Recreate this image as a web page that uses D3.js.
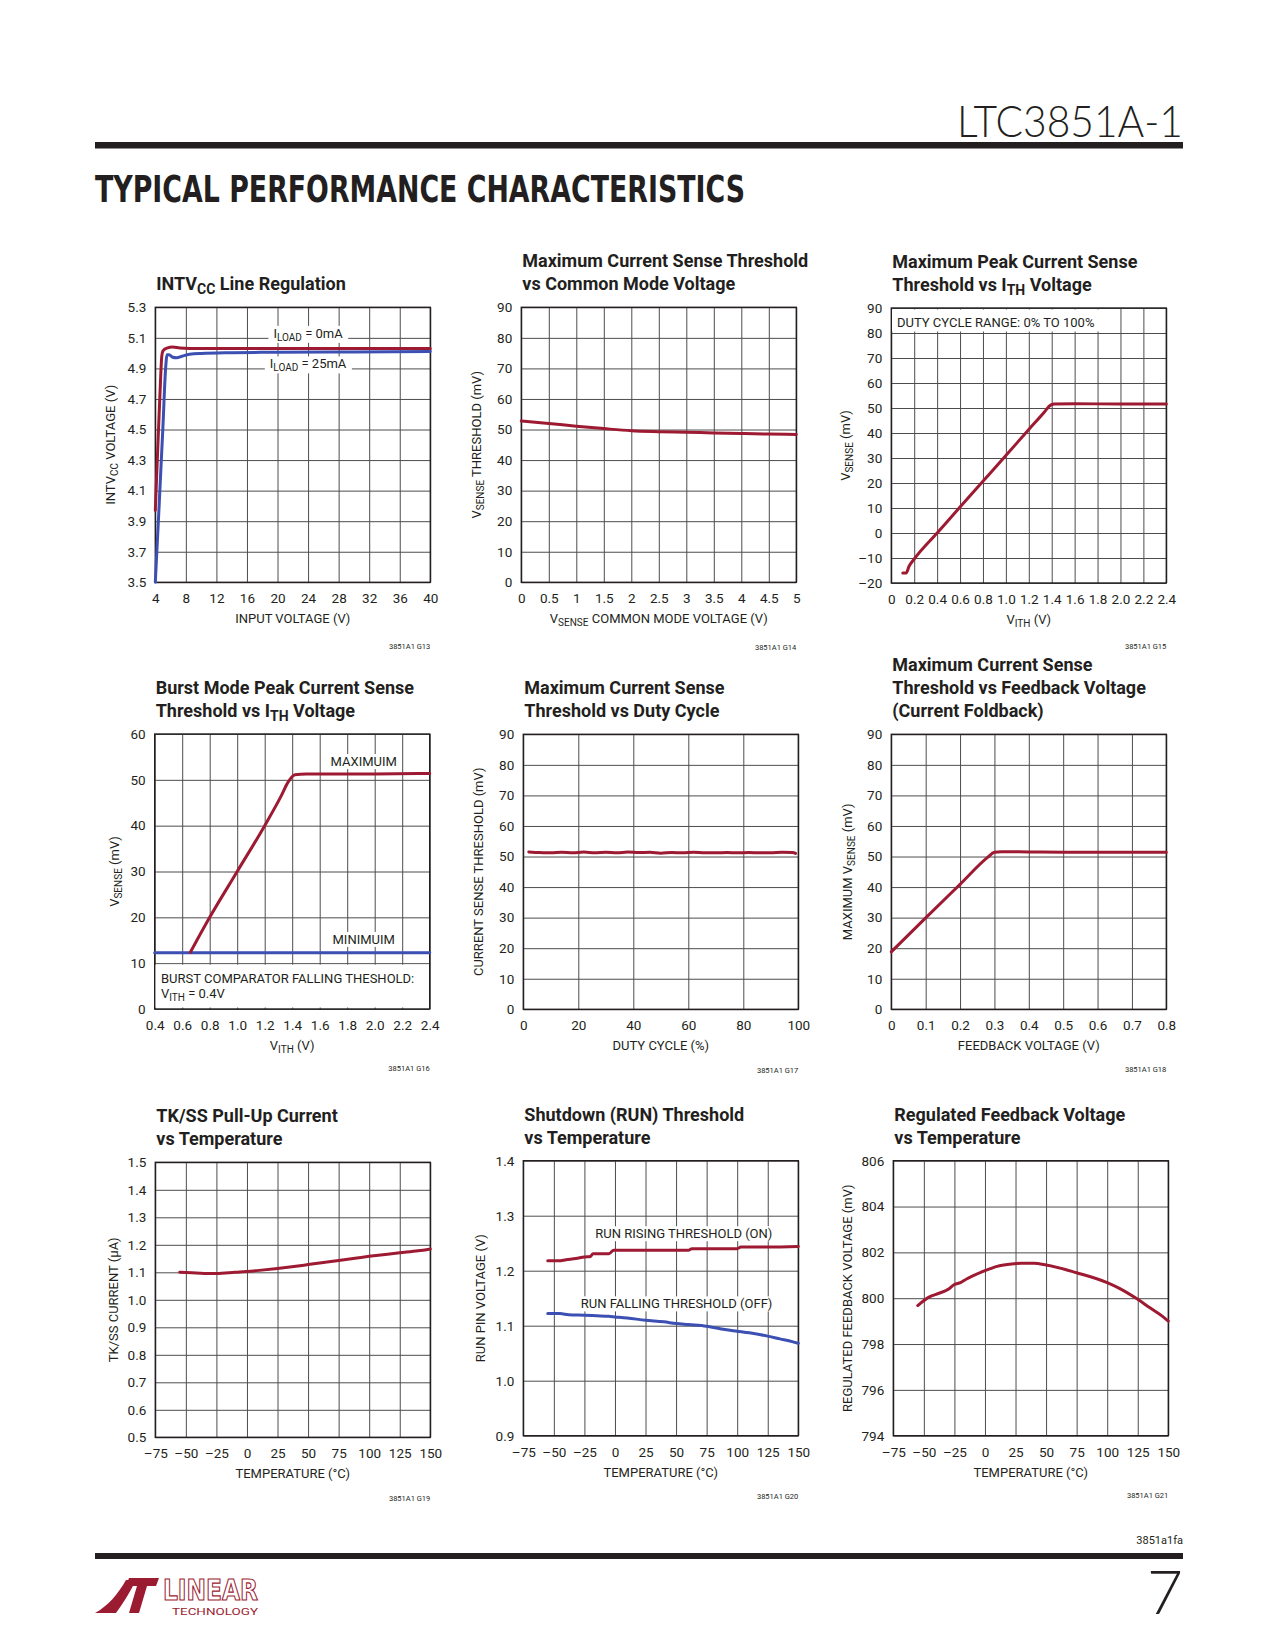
<!DOCTYPE html>
<html>
<head>
<meta charset="utf-8">
<script src="https://cdnjs.cloudflare.com/ajax/libs/d3/7.8.5/d3.min.js"></script>
<style>
body { margin: 0; background: #fff; }
</style>
</head>
<body>
<div id="page"></div>
<script>
// ---- data ----

// G13 INTVcc line regulation
var g13Vin0 = [4, 4.3, 4.6, 4.85, 5.0, 5.5, 6.3, 7.2, 8.5, 12, 20, 30, 40];
var g13Vcc0 = [3.97, 4.35, 4.72, 4.98, 5.015, 5.033, 5.04, 5.033, 5.03, 5.03, 5.03, 5.03, 5.03];
var g13Vin25 = [4, 4.5, 5.0, 5.35, 5.55, 5.8, 6.2, 6.8, 7.5, 8.5, 10, 14, 20, 30, 40];
var g13Vcc25 = [3.5, 4.0, 4.52, 4.9, 4.99, 4.99, 4.975, 4.97, 4.98, 4.992, 4.998, 5.003, 5.006, 5.008, 5.01];
var g13XTicks = [4, 8, 12, 16, 20, 24, 28, 32, 36, 40];
var g13YTicks = [3.5, 3.7, 3.9, 4.1, 4.3, 4.5, 4.7, 4.9, 5.1, 5.3];

// G14 threshold vs common mode
var g14Vcm = [0, 0.5, 1, 1.5, 2, 2.5, 3, 3.5, 4, 4.5, 5];
var g14Vsense = [52.8, 52.0, 51.1, 50.3, 49.6, 49.3, 49.1, 48.9, 48.7, 48.5, 48.4];
var g14XTicks = [0, 0.5, 1, 1.5, 2, 2.5, 3, 3.5, 4, 4.5, 5];
var g14YTicks = [0, 10, 20, 30, 40, 50, 60, 70, 80, 90];

// G15 peak threshold vs ITH
var g15Vith = [0.1, 0.13, 0.155, 0.2, 0.4, 0.6, 0.8, 1.0, 1.2, 1.34, 1.38, 1.42, 1.6, 2.0, 2.4];
var g15Vsense = [-16, -16, -13.3, -10.4, 0, 10.4, 20.7, 31, 41.4, 48.6, 50.8, 51.6, 51.7, 51.6, 51.6];
var g15XTicks = [0, 0.2, 0.4, 0.6, 0.8, 1.0, 1.2, 1.4, 1.6, 1.8, 2.0, 2.2, 2.4];
var g15YTicks = [-20, -10, 0, 10, 20, 30, 40, 50, 60, 70, 80, 90];

// G16 burst mode threshold vs ITH
var g16MaxVith = [0.66, 0.8, 1.0, 1.2, 1.32, 1.37, 1.42, 1.5, 2.0, 2.4];
var g16MaxVsense = [12.4, 20, 30, 40, 46.5, 49.5, 51.1, 51.3, 51.3, 51.4];
var g16MinVith = [0.4, 1.4, 2.4];
var g16MinVsense = [12.3, 12.3, 12.3];
var g16XTicks = [0.4, 0.6, 0.8, 1.0, 1.2, 1.4, 1.6, 1.8, 2.0, 2.2, 2.4];
var g16YTicks = [0, 10, 20, 30, 40, 50, 60];

// G17 threshold vs duty cycle
var g17Duty = [2, 6, 10, 14, 18, 22, 26, 30, 34, 38, 42, 46, 50, 54, 58, 62, 66, 70, 74, 78, 82, 86, 90, 94, 98, 99];
var g17Vsense = [51.5, 51.3, 51.2, 51.4, 51.2, 51.5, 51.2, 51.4, 51.2, 51.5, 51.3, 51.4, 51.1, 51.3, 51.2, 51.4, 51.2, 51.2, 51.3, 51.2, 51.3, 51.2, 51.2, 51.4, 51.3, 51.0];
var g17XTicks = [0, 20, 40, 60, 80, 100];
var g17YTicks = [0, 10, 20, 30, 40, 50, 60, 70, 80, 90];

// G18 foldback
var g18Vfb = [0, 0.1, 0.2, 0.28, 0.3, 0.32, 0.4, 0.5, 0.6, 0.7, 0.8];
var g18Vsense = [18.8, 29.9, 40.9, 49.7, 51.4, 51.6, 51.5, 51.4, 51.4, 51.4, 51.4];
var g18XTicks = [0, 0.1, 0.2, 0.3, 0.4, 0.5, 0.6, 0.7, 0.8];
var g18YTicks = [0, 10, 20, 30, 40, 50, 60, 70, 80, 90];

// temperature axis shared by G19-G21
var tempTicks = [-75, -50, -25, 0, 25, 50, 75, 100, 125, 150];

// G19 TK/SS pull-up current
var g19Temp = [-55, -45, -35, -25, -10, 0, 10, 25, 40, 50, 65, 75, 90, 100, 115, 125, 140, 150];
var g19Current = [1.100, 1.098, 1.096, 1.096, 1.100, 1.103, 1.107, 1.114, 1.122, 1.128, 1.137, 1.143, 1.152, 1.158, 1.166, 1.171, 1.178, 1.185];
var g19YTicks = [0.5, 0.6, 0.7, 0.8, 0.9, 1.0, 1.1, 1.2, 1.3, 1.4, 1.5];

// G20 RUN thresholds
var g20RiseTemp = [-55, -46, -40, -32, -25, -20, -18, -5, -1, 20, 40, 60, 63, 80, 100, 103, 125, 150];
var g20RiseV = [1.218, 1.218, 1.220, 1.222, 1.225, 1.226, 1.231, 1.231, 1.237, 1.237, 1.237, 1.237, 1.240, 1.240, 1.240, 1.243, 1.243, 1.244];
var g20FallTemp = [-55, -45, -38, -25, -15, -5, 0, 10, 25, 40, 50, 60, 75, 90, 100, 110, 125, 135, 145, 150];
var g20FallV = [1.122, 1.122, 1.120, 1.119, 1.118, 1.117, 1.116, 1.114, 1.110, 1.107, 1.104, 1.102, 1.099, 1.093, 1.090, 1.087, 1.081, 1.076, 1.071, 1.068];
var g20YTicks = [0.9, 1.0, 1.1, 1.2, 1.3, 1.4];

// G21 regulated feedback voltage
var g21Temp = [-55, -45, -40, -30, -25, -20, -15, -10, 0, 10, 20, 30, 40, 50, 75, 100, 110, 125, 135, 145, 150];
var g21Vfb = [799.68, 800.07, 800.17, 800.39, 800.6, 800.68, 800.84, 800.97, 801.2, 801.39, 801.48, 801.52, 801.52, 801.45, 801.11, 800.68, 800.43, 799.95, 799.58, 799.22, 799.0];
var g21YTicks = [794, 796, 798, 800, 802, 804, 806];

// ---- drawing ----
var RED = '#9d1a32', BLUE = '#3c4fb3', INK = '#231f20', GRID = '#4d4d4d';
var FONT = '"Liberation Sans Narrow", "Arial Narrow", "Roboto", sans-serif';
var W = 275, H = 275;

var svg = d3.select('#page').append('svg')
    .attr('width', 1275)
    .attr('height', 1650)
    .style('font-family', FONT);

function dash(d) { return d < 0 ? '\u2013' + Math.abs(d) : String(d); }
function one(d) { return d.toFixed(1); }
function oneZ(d) { return d === 0 ? '0' : d.toFixed(1); }

// appends text pieces; a piece [str, shift] is drawn as a small subscript
function rich(t, segs, subSize) {
    var shift = 0;
    segs.forEach(function (s) {
        if (typeof s === 'string') {
            t.append('tspan').attr('dy', -shift).text(s);
            shift = 0;
        } else {
            t.append('tspan').attr('dy', s[1] - shift).style('font-size', subSize + 'px').text(s[0]);
            shift = s[1];
        }
    });
    return t;
}

function drawChart(c) {
    var g = svg.append('g').attr('transform', 'translate(' + c.left + ',' + c.top + ')');
    var x = d3.scaleLinear().domain(c.xDom).range([0, W]);
    var y = d3.scaleLinear().domain(c.yDom).range([H, 0]);

    var gx = g.append('g')
        .attr('transform', 'translate(0,' + H + ')')
        .call(d3.axisBottom(x).tickValues(c.xTicks).tickFormat(c.xFmt).tickSize(-H).tickPadding(11.5));
    var gy = g.append('g')
        .call(d3.axisLeft(y).tickValues(c.yTicks).tickFormat(c.yFmt).tickSize(-W).tickPadding(9));
    [gx, gy].forEach(function (a) {
        a.attr('font-family', null).attr('font-size', null);
        a.select('.domain').remove();
        a.selectAll('line').attr('stroke', GRID).attr('stroke-width', 1);
        a.selectAll('text').attr('fill', INK).style('font-size', '13.5px');
    });

    var bgLayer = g.append('g');
    (c.boxes || []).forEach(function (b) {
        bgLayer.append('rect')
            .attr('x', x(b.x0))
            .attr('y', y(b.y1) + b.t)
            .attr('width', x(b.x1) - x(b.x0))
            .attr('height', y(b.y0) - y(b.y1) - b.t - b.b)
            .attr('fill', '#fff');
    });

    g.append('rect')
        .attr('width', W).attr('height', H)
        .attr('fill', 'none').attr('stroke', INK).attr('stroke-width', 1.4);

    var line = d3.line()
        .x(function (d) { return x(d[0]); })
        .y(function (d) { return y(d[1]); })
        .curve(d3.curveMonotoneX);
    c.series.forEach(function (s) {
        g.append('path')
            .attr('d', line(d3.zip(s.x, s.y)))
            .attr('fill', 'none')
            .attr('stroke', s.color)
            .attr('stroke-width', 3)
            .attr('stroke-linejoin', 'round')
            .attr('stroke-linecap', 'round');
    });

    (c.notes || []).forEach(function (n) {
        var t = g.append('text')
            .attr('x', x(n.x)).attr('y', y(n.y))
            .attr('text-anchor', n.anchor || 'start')
            .attr('fill', INK)
            .style('font-size', '13px');
        rich(t, n.segs, 10);
        if (n.bg) {
            var bb = t.node().getBBox();
            bgLayer.append('rect')
                .attr('x', bb.x - 5).attr('y', bb.y)
                .attr('width', bb.width + 10).attr('height', bb.height)
                .attr('fill', '#fff');
        }
    });

    // titles
    c.title.forEach(function (segs, i) {
        var t = g.append('text')
            .attr('x', 1)
            .attr('y', -17 - 23 * (c.title.length - 1 - i))
            .attr('fill', INK)
            .style('font-size', '18px')
            .style('font-weight', 'bold');
        rich(t, segs, 14);
    });

    // axis labels
    rich(g.append('text')
        .attr('x', W / 2).attr('y', H + 41)
        .attr('text-anchor', 'middle')
        .attr('fill', INK)
        .style('font-size', '13px'), c.xlab, 10);

    rich(g.append('text')
        .attr('transform', 'translate(' + (-c.ylabOff) + ',' + (H / 2) + ') rotate(-90)')
        .attr('text-anchor', 'middle')
        .attr('fill', INK)
        .style('font-size', '13px'), c.ylab, 10);

    g.append('text')
        .attr('x', W).attr('y', c.codeY - c.top)
        .attr('text-anchor', 'end')
        .attr('fill', INK)
        .style('font-size', '7.5px')
        .text(c.code);
}

var charts = [
    {
        left: 155.3, top: 307.3, xDom: [4, 40], yDom: [3.5, 5.3],
        xTicks: g13XTicks, yTicks: g13YTicks, xFmt: String, yFmt: one,
        title: [['INTV', ['CC', 3.5], ' Line Regulation']],
        xlab: ['INPUT VOLTAGE (V)'], ylab: ['INTV', ['CC', 3], ' VOLTAGE (V)'], ylabOff: 40.6,
        code: '3851A1 G13', codeY: 649,
        series: [{ x: g13Vin25, y: g13Vcc25, color: BLUE }, { x: g13Vin0, y: g13Vcc0, color: RED }],
        notes: [
            { x: 24, y: 5.1, anchor: 'middle', segs: ['I', ['LOAD', 3], ' = 0mA'], bg: true },
            { x: 24, y: 4.9, anchor: 'middle', segs: ['I', ['LOAD', 3], ' = 25mA'], bg: true }
        ]
    },
    {
        left: 521.3, top: 307.3, xDom: [0, 5], yDom: [0, 90],
        xTicks: g14XTicks, yTicks: g14YTicks, xFmt: String, yFmt: String,
        title: [['Maximum Current Sense Threshold'], ['vs Common Mode Voltage']],
        xlab: ['V', ['SENSE', 3], ' COMMON MODE VOLTAGE (V)'], ylab: ['V', ['SENSE', 3], ' THRESHOLD (mV)'], ylabOff: 40,
        code: '3851A1 G14', codeY: 650,
        series: [{ x: g14Vcm, y: g14Vsense, color: RED }]
    },
    {
        left: 891.3, top: 308, xDom: [0, 2.4], yDom: [-20, 90],
        xTicks: g15XTicks, yTicks: g15YTicks, xFmt: oneZ, yFmt: dash,
        title: [['Maximum Peak Current Sense'], ['Threshold vs I', ['TH', 3.5], ' Voltage']],
        xlab: ['V', ['ITH', 3], ' (V)'], ylab: ['V', ['SENSE', 3], ' (mV)'], ylabOff: 41.6,
        code: '3851A1 G15', codeY: 649,
        series: [{ x: g15Vith, y: g15Vsense, color: RED }],
        boxes: [{ x0: 0, x1: 1.9, y0: 80, y1: 90, t: 1.5, b: 1.5 }],
        notes: [{ x: 0.05, y: 82.3, segs: ['DUTY CYCLE RANGE: 0% TO 100%'] }]
    },
    {
        left: 154.7, top: 734, xDom: [0.4, 2.4], yDom: [0, 60],
        xTicks: g16XTicks, yTicks: g16YTicks, xFmt: one, yFmt: String,
        title: [['Burst Mode Peak Current Sense'], ['Threshold vs I', ['TH', 3.5], ' Voltage']],
        xlab: ['V', ['ITH', 3], ' (V)'], ylab: ['V', ['SENSE', 3], ' (mV)'], ylabOff: 36,
        code: '3851A1 G16', codeY: 1071,
        series: [{ x: g16MinVith, y: g16MinVsense, color: BLUE }, { x: g16MaxVith, y: g16MaxVsense, color: RED }],
        boxes: [{ x0: 0.4, x1: 2.4, y0: 0, y1: 10, t: 1.5, b: 1.5 }],
        notes: [
            { x: 1.92, y: 53.0, anchor: 'middle', segs: ['MAXIMUIM'], bg: true },
            { x: 1.92, y: 14.2, anchor: 'middle', segs: ['MINIMUIM'], bg: true },
            { x: 0.446, y: 5.76, segs: ['BURST COMPARATOR FALLING THESHOLD:'] },
            { x: 0.446, y: 2.47, segs: ['V', ['ITH', 3], ' = 0.4V'] }
        ]
    },
    {
        left: 523.3, top: 734.3, xDom: [0, 100], yDom: [0, 90],
        xTicks: g17XTicks, yTicks: g17YTicks, xFmt: String, yFmt: String,
        title: [['Maximum Current Sense'], ['Threshold vs Duty Cycle']],
        xlab: ['DUTY CYCLE (%)'], ylab: ['CURRENT SENSE THRESHOLD (mV)'], ylabOff: 40.6,
        code: '3851A1 G17', codeY: 1073,
        series: [{ x: g17Duty, y: g17Vsense, color: RED }]
    },
    {
        left: 891.3, top: 734.3, xDom: [0, 0.8], yDom: [0, 90],
        xTicks: g18XTicks, yTicks: g18YTicks, xFmt: oneZ, yFmt: String,
        title: [['Maximum Current Sense'], ['Threshold vs Feedback Voltage'], ['(Current Foldback)']],
        xlab: ['FEEDBACK VOLTAGE (V)'], ylab: ['MAXIMUM V', ['SENSE', 3], ' (mV)'], ylabOff: 39.6,
        code: '3851A1 G18', codeY: 1072,
        series: [{ x: g18Vfb, y: g18Vsense, color: RED }]
    },
    {
        left: 155.3, top: 1162.3, xDom: [-75, 150], yDom: [0.5, 1.5],
        xTicks: tempTicks, yTicks: g19YTicks, xFmt: dash, yFmt: one,
        title: [['TK/SS Pull-Up Current'], ['vs Temperature']],
        xlab: ['TEMPERATURE (\u00b0C)'], ylab: ['TK/SS CURRENT (\u00b5A)'], ylabOff: 37.6,
        code: '3851A1 G19', codeY: 1501,
        series: [{ x: g19Temp, y: g19Current, color: RED }]
    },
    {
        left: 523.3, top: 1160.7, xDom: [-75, 150], yDom: [0.9, 1.4],
        xTicks: tempTicks, yTicks: g20YTicks, xFmt: dash, yFmt: one,
        title: [['Shutdown (RUN) Threshold'], ['vs Temperature']],
        xlab: ['TEMPERATURE (\u00b0C)'], ylab: ['RUN PIN VOLTAGE (V)'], ylabOff: 38.6,
        code: '3851A1 G20', codeY: 1499,
        series: [{ x: g20RiseTemp, y: g20RiseV, color: RED }, { x: g20FallTemp, y: g20FallV, color: BLUE }],
        notes: [
            { x: 128.8, y: 1.259, anchor: 'end', segs: ['RUN RISING THRESHOLD (ON)'], bg: true },
            { x: 128.8, y: 1.1315, anchor: 'end', segs: ['RUN FALLING THRESHOLD (OFF)'], bg: true }
        ]
    },
    {
        left: 893.3, top: 1160.7, xDom: [-75, 150], yDom: [794, 806],
        xTicks: tempTicks, yTicks: g21YTicks, xFmt: dash, yFmt: String,
        title: [['Regulated Feedback Voltage'], ['vs Temperature']],
        xlab: ['TEMPERATURE (\u00b0C)'], ylab: ['REGULATED FEEDBACK VOLTAGE (mV)'], ylabOff: 41.6,
        code: '3851A1 G21', codeY: 1498,
        series: [{ x: g21Temp, y: g21Vfb, color: RED }]
    }
];

charts.forEach(drawChart);

// ---- page header ----
svg.append('text')
    .attr('x', 1183).attr('y', 137)
    .attr('text-anchor', 'end')
    .attr('fill', INK)
    .attr('textLength', 226).attr('lengthAdjust', 'spacingAndGlyphs')
    .style('font-family', 'Lato, "Open Sans", sans-serif')
    .style('font-weight', 300)
    .style('font-size', '44px')
    .text('LTC3851A-1');

svg.append('rect').attr('x', 95).attr('y', 142).attr('width', 1088).attr('height', 6.5).attr('fill', INK);

svg.append('text')
    .attr('x', 95).attr('y', 202)
    .attr('fill', INK)
    .attr('textLength', 650).attr('lengthAdjust', 'spacingAndGlyphs')
    .style('font-family', '"DejaVu Sans", sans-serif')
    .style('font-weight', 'bold')
    .style('font-size', '37px')
    .text('TYPICAL PERFORMANCE CHARACTERISTICS');

// ---- page footer ----
svg.append('text')
    .attr('x', 1183).attr('y', 1544)
    .attr('text-anchor', 'end')
    .attr('fill', INK)
    .style('font-size', '11px')
    .text('3851a1fa');

svg.append('rect').attr('x', 95).attr('y', 1553).attr('width', 1088).attr('height', 6).attr('fill', INK);

svg.append('text')
    .attr('x', 1183).attr('y', 1614)
    .attr('text-anchor', 'end')
    .attr('fill', INK)
    .style('font-family', 'Lato, "Open Sans", sans-serif')
    .style('font-weight', 300)
    .style('font-size', '62px')
    .text('7');

// Linear Technology logo (simplified)
var LOGO = '#9b1c31';
svg.append('path')
    .attr('d', 'M95,1613 C108,1606 118,1594 126,1580 L136,1580 C128,1596 121,1606 116,1613 Z')
    .attr('fill', LOGO);
svg.append('path')
    .attr('d', 'M129,1578 L159,1578 L156,1586 L147,1586 L139,1613 L129,1613 L137,1586 L126,1586 Z')
    .attr('fill', LOGO);
svg.append('text')
    .attr('x', 163).attr('y', 1600)
    .attr('textLength', 95).attr('lengthAdjust', 'spacingAndGlyphs')
    .attr('fill', '#fff').attr('stroke', LOGO).attr('stroke-width', 1.2)
    .style('font-family', '"DejaVu Sans", sans-serif')
    .style('font-weight', 'bold')
    .style('font-size', '28px')
    .text('LINEAR');
svg.append('text')
    .attr('x', 172).attr('y', 1615)
    .attr('textLength', 86).attr('lengthAdjust', 'spacingAndGlyphs')
    .attr('fill', LOGO)
    .style('font-size', '9px')
    .text('TECHNOLOGY');
</script>
</body>
</html>
